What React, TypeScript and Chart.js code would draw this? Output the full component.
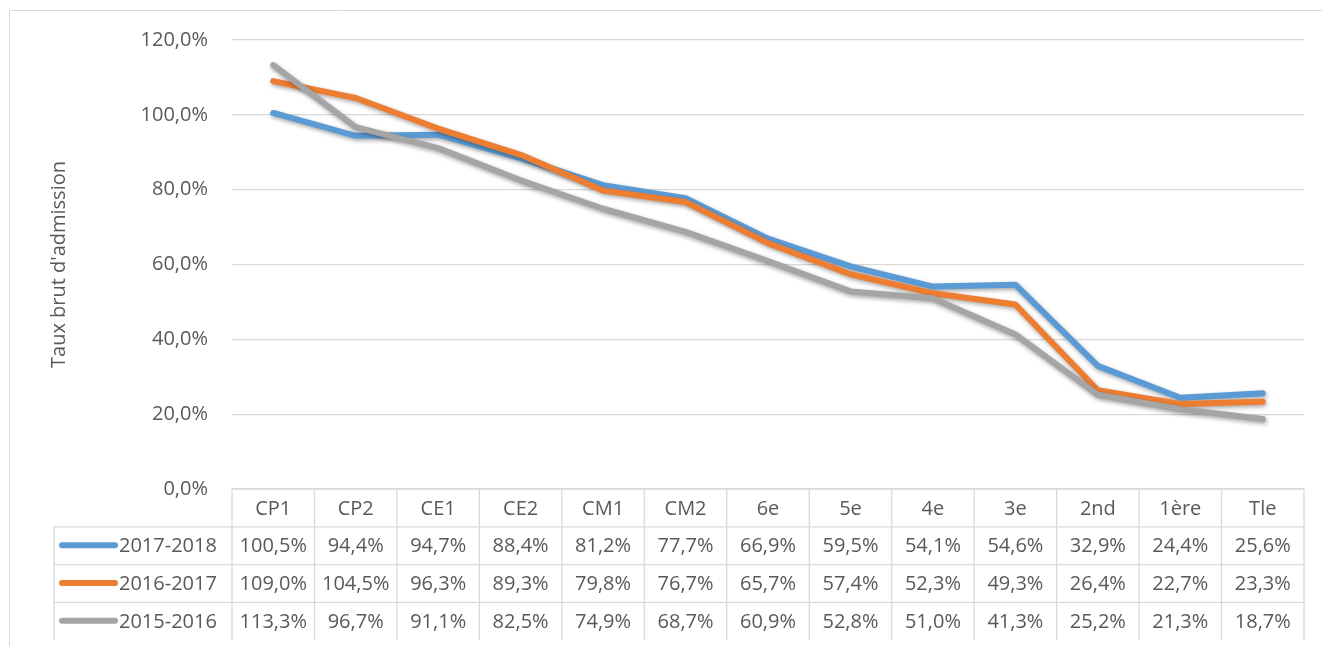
import React, { useEffect, useRef } from "react";
import { Chart, registerables } from "chart.js";

Chart.register(...registerables);

const categories = ["CP1", "CP2", "CE1", "CE2", "CM1", "CM2", "6e", "5e", "4e", "3e", "2nd", "1ère", "Tle"];
const seriesNames = ["2017-2018", "2016-2017", "2015-2016"];
const values2017_2018 = [100.5, 94.4, 94.7, 88.4, 81.2, 77.7, 66.9, 59.5, 54.1, 54.6, 32.9, 24.4, 25.6];
const values2016_2017 = [109.0, 104.5, 96.3, 89.3, 79.8, 76.7, 65.7, 57.4, 52.3, 49.3, 26.4, 22.7, 23.3];
const values2015_2016 = [113.3, 96.7, 91.1, 82.5, 74.9, 68.7, 60.9, 52.8, 51.0, 41.3, 25.2, 21.3, 18.7];
const seriesColors = ["#5B9BD5", "#ED7D31", "#A5A5A5"];
const yTitle = "Taux brut d'admission";

const FONT = "'Open Sans', 'Noto Sans', sans-serif";
const TEXT = "#595959";
const GRID = "#d9d9d9";

const fmt = (v: number) => v.toFixed(1).replace(".", ",") + "%";

export default function App() {
  const ref = useRef<HTMLCanvasElement | null>(null);
  useEffect(() => {
    document.body.style.margin = "0";
    const canvas = ref.current!;
    const allSeries = [values2017_2018, values2016_2017, values2015_2016];

    const framePlugin = {
      id: "frame",
      beforeDraw(chart: any) {
        const ctx = chart.ctx;
        ctx.save();
        ctx.fillStyle = "#ffffff";
        ctx.fillRect(0, 0, chart.width, chart.height);
        ctx.strokeStyle = GRID;
        ctx.lineWidth = 1;
        ctx.beginPath();
        ctx.moveTo(9.5, chart.height);
        ctx.lineTo(9.5, 10.5);
        ctx.lineTo(chart.width, 10.5);
        ctx.stroke();
        ctx.restore();
      },
    };

    const shadowPlugin = {
      id: "shadow",
      beforeDatasetDraw(chart: any) {
        const ctx = chart.ctx;
        ctx.save();
        ctx.shadowColor = "rgba(0,0,0,0.35)";
        ctx.shadowBlur = 4;
        ctx.shadowOffsetX = 1;
        ctx.shadowOffsetY = 2;
      },
      afterDatasetDraw(chart: any) {
        chart.ctx.restore();
      },
    };

    const tablePlugin = {
      id: "dataTable",
      afterDraw(chart: any) {
        const ctx = chart.ctx;
        const x = chart.scales.x;
        const y = chart.scales.y;
        const left = chart.chartArea.left;
        const right = chart.chartArea.right;
        const top = y.getPixelForValue(0);
        const rowH = 37.8;
        const legendLeft = 54;
        const n = categories.length;
        const colW = (right - left) / n;
        ctx.save();
        ctx.strokeStyle = GRID;
        ctx.lineWidth = 1.3;
        ctx.beginPath();
        ctx.moveTo(left, top);
        ctx.lineTo(right, top);
        for (let r = 1; r <= seriesNames.length; r++) {
          const yy = top + rowH * r;
          ctx.moveTo(legendLeft, yy);
          ctx.lineTo(right, yy);
        }
        for (let c = 0; c <= n; c++) {
          const xx = left + colW * c;
          ctx.moveTo(xx, top);
          ctx.lineTo(xx, top + rowH * (seriesNames.length + 1));
        }
        ctx.moveTo(legendLeft, top + rowH);
        ctx.lineTo(legendLeft, top + rowH * (seriesNames.length + 1));
        ctx.stroke();

        ctx.fillStyle = TEXT;
        ctx.font = `20px ${FONT}`;
        ctx.textAlign = "center";
        ctx.textBaseline = "middle";
        categories.forEach((c, i) => {
          ctx.fillText(c, x.getPixelForValue(i), top + rowH / 2 + 1);
        });
        allSeries.forEach((vals, r) => {
          const cy = top + rowH * (r + 1) + rowH / 2 + 0.5;
          vals.forEach((v, i) => {
            ctx.fillText(fmt(v), x.getPixelForValue(i), cy);
          });
          ctx.save();
          ctx.strokeStyle = seriesColors[r];
          ctx.lineWidth = 6;
          ctx.lineCap = "round";
          ctx.beginPath();
          ctx.moveTo(62, cy - 1);
          ctx.lineTo(115, cy - 1);
          ctx.stroke();
          ctx.restore();
          ctx.textAlign = "left";
          ctx.fillText(seriesNames[r], 119, cy);
          ctx.textAlign = "center";
        });
        ctx.restore();
      },
    };

    const chart = new Chart(canvas, {
      type: "line",
      data: {
        labels: categories,
        datasets: allSeries.map((vals, i) => ({
          label: seriesNames[i],
          data: vals,
          borderColor: seriesColors[i],
          backgroundColor: seriesColors[i],
          borderWidth: 6,
          pointRadius: 0,
          borderCapStyle: "round" as const,
          borderJoinStyle: "round" as const,
          tension: 0,
          order: 2 - i,
        })),
      },
      options: {
        responsive: false,
        animation: false,
        layout: { padding: { left: 0, right: 18, top: 40, bottom: 157 } },
        plugins: {
          legend: { display: false },
          tooltip: { enabled: false },
          title: { display: false },
        },
        scales: {
          x: {
            type: "category",
            display: false,
            offset: true,
          },
          y: {
            min: 0,
            max: 120,
            border: { display: false },
            grid: { color: GRID, lineWidth: 1.3, drawTicks: false },
            ticks: {
              stepSize: 20,
              padding: 24,
              color: TEXT,
              font: { family: FONT, size: 20 },
              callback: (v: any) => fmt(Number(v)),
            },
            title: {
              display: true,
              text: yTitle,
              color: TEXT,
              font: { family: FONT, size: 20 },
              padding: { top: 47, bottom: 0 },
            },
            afterFit: (scale: any) => {
              scale.width = 232;
            },
          },
        },
      },
      plugins: [framePlugin, shadowPlugin, tablePlugin],
    });
    return () => chart.destroy();
  }, []);
  return (
    <canvas
      ref={ref}
      width={1322}
      height={646}
      style={{ position: "fixed", left: 0, top: 0, width: 1322, height: 646 }}
    />
  );
}
